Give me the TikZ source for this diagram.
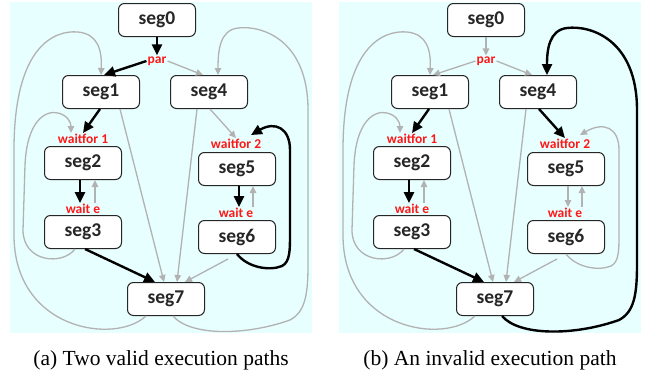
\documentclass[tikz,border=0pt]{standalone}
\usepackage{fontspec}
\setmainfont{Liberation Serif}
\newfontfamily\segfont{Carlito}
\usepackage{tikz}
\usetikzlibrary{
  arrows.meta,
  positioning
}
\definecolor{panelbg}{RGB}{232,255,255}
\definecolor{edgegray}{RGB}{178,178,178}
\definecolor{condred}{RGB}{255,24,24}

\begin{document}
\begin{tikzpicture}[
      x=1pt,y=-1pt,
      seg/.style={
         rectangle,
         rounded corners=6pt,
         minimum width=77pt,
         minimum height=33pt,
         line width=1pt,
         draw=black!85,
         fill=white,
         text=black!85,
         font=\segfont\bfseries\fontsize{19.5}{22}\selectfont
      },
      cond/.style={
         inner sep=1pt,
         text=condred,
         font=\segfont\bfseries\fontsize{13.5}{15}\selectfont
      },
      blk/.style={line width=2.4pt,draw=black,-{Triangle[length=11pt,width=10pt]}},
      gry/.style={line width=1.3pt,draw=edgegray,-{Triangle[length=7pt,width=6.5pt]}},
      caption/.style={font=\fontsize{21.5}{24}\selectfont}
    ]
    \useasboundingbox (0,0) rectangle (651,375);
    \foreach \p/\dx/\cA/\cB/\cap in {a/0/blk/gry/{(a) Two valid execution paths},
                                     b/329/gry/blk/{(b) An invalid execution path}} {
    \begin{scope}[xshift=\dx pt]
      \fill[panelbg] (10,2) rectangle (312,333);
      \node (\p-seg0) [seg] at (157,20) {seg0};
      \node (\p-seg1) [seg] at (101,92) {seg1};
      \node (\p-seg4) [seg] at (209,92) {seg4};
      \node (\p-seg2) [seg] at (83,163) {seg2};
      \node (\p-seg5) [seg] at (237,169) {seg5};
      \node (\p-seg3) [seg] at (83,232) {seg3};
      \node (\p-seg6) [seg] at (237,237) {seg6};
      \node (\p-seg7) [seg] at (166,299) {seg7};
      \node (\p-par) [cond] at (157,61) {par};
      \node (\p-wf1) [cond] at (83,139) {waitfor 1};
      \node (\p-wf2) [cond] at (236,144) {waitfor 2};
      \node (\p-we1) [cond] at (83,209) {wait e};
      \node (\p-we2) [cond] at (236,213) {wait e};
      \node (\p-cap) [caption] at (161,360) {\cap};
      % straight edges
      \draw[\cA] (\p-seg0.south) -- (\p-par.north);
      \draw[\cA] (\p-par.west) -- ([xshift=3pt]\p-seg1.north);
      \draw[gry] (\p-par.east) -- ([xshift=-6pt]\p-seg4.north);
      \draw[blk] ([xshift=-1pt]\p-seg1.south) -- (\p-wf1.north);
      \draw[\cB] ([xshift=1pt]\p-seg4.south) -- (\p-wf2.north);
      \draw[blk] ([xshift=-3pt]\p-seg2.south) -- ([xshift=-3pt]\p-we1.north);
      \draw[gry] ([xshift=12pt]\p-we1.north) -- ([xshift=12pt]\p-seg2.south);
      \draw[\cA] ([xshift=2pt]\p-seg5.south) -- ([xshift=3pt]\p-we2.north);
      \draw[gry] ([xshift=17pt]\p-we2.north) -- ([xshift=16pt]\p-seg5.south);
      \draw[blk] ([xshift=2pt]\p-seg3.south) -- ([xshift=-11pt]\p-seg7.north);
      \draw[gry] ([xshift=19pt]\p-seg1.south) -- ([xshift=-2pt]\p-seg7.north);
      \draw[gry] ([xshift=-12pt]\p-seg4.south) -- ([xshift=11pt]\p-seg7.north);
      \draw[gry] ([shift={(-9pt,-5pt)}]\p-seg6.south) -- ([xshift=19pt]\p-seg7.north);
      % loops
      \draw[\cA] (\p-seg6.south) .. controls (248,268) and (270,271) .. (282,266)
         .. controls (290,262) and (290,250) .. (290,235) -- (290,150)
         .. controls (290,128) and (275,121) .. ([shift={(15pt,3pt)}]\p-wf2.north);
      \draw[\cB] ([xshift=7pt]\p-seg7.south) .. controls (190,336) and (245,336) .. (290,320)
         .. controls (305,312) and (308,295) .. (308,265) -- (308,110)
         .. controls (308,40) and (262,25) .. (238,28)
         .. controls (220,30) and (218,50) .. ([xshift=9pt]\p-seg4.north);
      \draw[gry] ([xshift=-20pt]\p-seg7.south) .. controls (115,345) and (14,330) .. (14,235)
         -- (14,150) .. controls (14,45) and (55,30) .. (78,32)
         .. controls (98,34) and (102,50) .. (\p-seg1.north);
      \draw[gry] ([xshift=-8pt]\p-seg3.south) .. controls (62,266) and (23,262) .. (23,230)
         -- (25,165) .. controls (27,120) and (46,110) .. (58,113)
         .. controls (67,115) and (71,122) .. ([xshift=-12pt]\p-wf1.north);
    \end{scope}
    }
\end{tikzpicture}
\end{document}
